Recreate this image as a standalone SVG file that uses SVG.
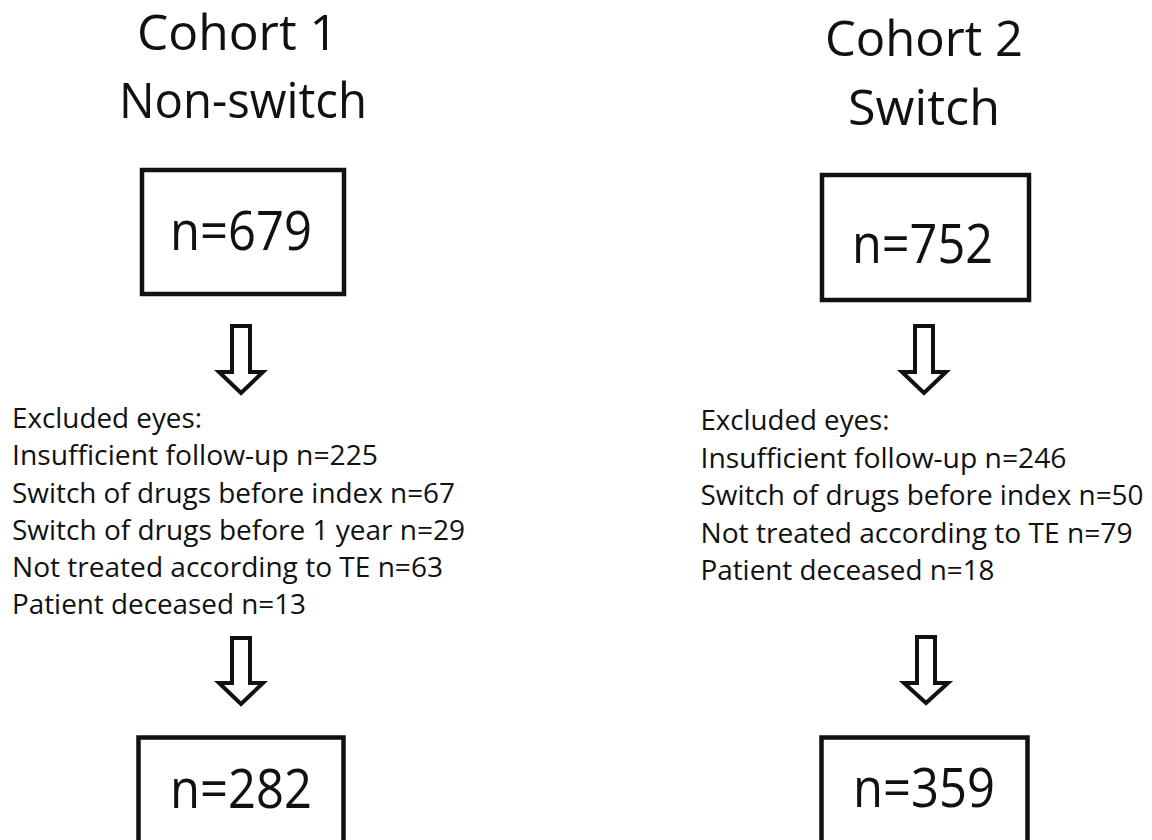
<svg xmlns="http://www.w3.org/2000/svg" width="1152" height="840" viewBox="0 0 1152 840">
<style>
text{font-family:"Open Sans","Noto Sans","Liberation Sans",sans-serif;fill:#111}
.title{font-size:49px;text-anchor:middle}
.num{font-size:54px;text-anchor:middle}
.body{font-size:28px}
.box{fill:#fff;stroke:#111;stroke-width:4.5}
.arr{fill:#fff;stroke:#111;stroke-width:4;stroke-linejoin:miter}
</style>
<rect width="1152" height="840" fill="#fff"/>
<g id="title1">
<text class="title" x="237.5" y="50" textLength="201" lengthAdjust="spacingAndGlyphs">Cohort 1</text>
<text class="title" x="243" y="118" textLength="248" lengthAdjust="spacingAndGlyphs">Non-switch</text>
</g>
<g id="title2">
<text class="title" x="924" y="56" textLength="198" lengthAdjust="spacingAndGlyphs">Cohort 2</text>
<text class="title" x="924" y="125" textLength="152" lengthAdjust="spacingAndGlyphs">Switch</text>
</g>
<g id="box1">
<rect class="box" x="142" y="170" width="202" height="124"/>
<text class="num" x="241" y="250" textLength="142" lengthAdjust="spacingAndGlyphs">n=679</text>
</g>
<g id="box2">
<rect class="box" x="822" y="175" width="207" height="125"/>
<text class="num" x="922.5" y="263" textLength="141" lengthAdjust="spacingAndGlyphs">n=752</text>
</g>
<g id="excl1">
<text class="body" x="12" y="428" textLength="190" lengthAdjust="spacingAndGlyphs">Excluded eyes:</text>
<text class="body" x="12" y="465" textLength="366" lengthAdjust="spacingAndGlyphs">Insufficient follow-up n=225</text>
<text class="body" x="12" y="502.5" textLength="443" lengthAdjust="spacingAndGlyphs">Switch of drugs before index n=67</text>
<text class="body" x="12" y="540" textLength="453" lengthAdjust="spacingAndGlyphs">Switch of drugs before 1 year n=29</text>
<text class="body" x="12" y="577" textLength="431" lengthAdjust="spacingAndGlyphs">Not treated according to TE n=63</text>
<text class="body" x="12" y="614" textLength="294" lengthAdjust="spacingAndGlyphs">Patient deceased n=13</text>
</g>
<g id="excl2">
<text class="body" x="700.5" y="430" textLength="189" lengthAdjust="spacingAndGlyphs">Excluded eyes:</text>
<text class="body" x="700.5" y="467.5" textLength="366" lengthAdjust="spacingAndGlyphs">Insufficient follow-up n=246</text>
<text class="body" x="700.5" y="505" textLength="443" lengthAdjust="spacingAndGlyphs">Switch of drugs before index n=50</text>
<text class="body" x="700.5" y="542.5" textLength="432" lengthAdjust="spacingAndGlyphs">Not treated according to TE n=79</text>
<text class="body" x="700.5" y="580" textLength="294" lengthAdjust="spacingAndGlyphs">Patient deceased n=18</text>
</g>
<g id="box3">
<rect class="box" x="138.5" y="737.5" width="205" height="140"/>
<text class="num" x="241" y="808" textLength="142" lengthAdjust="spacingAndGlyphs">n=282</text>
</g>
<g id="box4">
<rect class="box" x="821.5" y="737.5" width="206" height="140"/>
<text class="num" x="924" y="807" textLength="142" lengthAdjust="spacingAndGlyphs">n=359</text>
</g>
<g id="connectors">
<path class="arr" d="M232,326 H250 V372 H263 L241,393 L219,372 H232 Z"/>
<path class="arr" d="M232,638 H250 V683 H263 L241,704 L219,683 H232 Z"/>
<path class="arr" d="M915,326 H933 V372 H946 L924,393 L902,372 H915 Z"/>
<path class="arr" d="M917,637 H935 V683 H948 L926,703 L904,683 H917 Z"/>
</g>
</svg>
